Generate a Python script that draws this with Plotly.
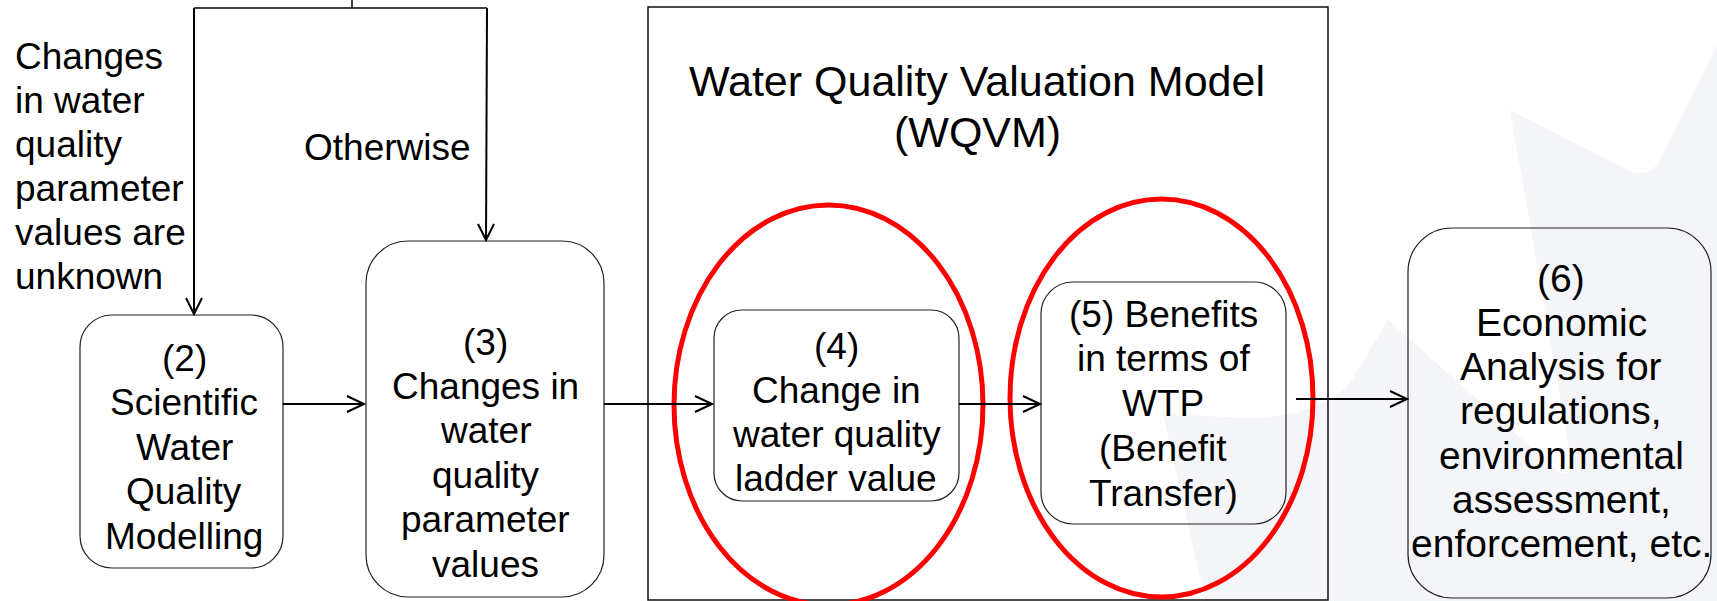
import plotly.graph_objects as go

W, H = 1717, 601

# ---------------- data (text content) ----------------
box_labels = [
    ["(2)", "Scientific", "Water", "Quality", "Modelling"],
    ["(3)", "Changes in", "water", "quality", "parameter", "values"],
    ["(4)", "Change in", "water quality", "ladder value"],
    ["(5) Benefits", "in terms of", "WTP", "(Benefit", "Transfer)"],
    ["(6)", "Economic", "Analysis for", "regulations,", "environmental",
     "assessment,", "enforcement, etc."],
]
condition_left = ["Changes", "in water", "quality", "parameter", "values are", "unknown"]
condition_right = ["Otherwise"]
model_title = ["Water Quality Valuation Model", "(WQVM)"]

# ---------------- layout geometry ----------------
# boxes: x0, y0, x1, y1, corner radius, text centre x, first line y, line step, font size
box_geom = [
    (80, 315, 283, 568, 32, 184, 358, 44.6, 37),
    (366, 241, 604, 597, 42, 485, 342, 44.4, 37),
    (714, 310, 959, 501, 28, 836, 346, 44.0, 37),
    (1041, 282, 1286, 524, 32, 1163, 314, 44.8, 37),
    (1408, 228, 1711, 598, 44, 1561, 278, 44.3, 39),
]
ellipse_geom = [(674, 205, 983, 605), (1010, 199, 1313, 597)]
frame_geom = (648, 7, 1328, 600)
FONT = "Arial, Liberation Sans, sans-serif"
FS = 37


def rrect(x0, y0, x1, y1, r):
    k = 0.5523 * r
    return (f"M {x0+r},{y0} L {x1-r},{y0} "
            f"C {x1-r+k},{y0} {x1},{y0+r-k} {x1},{y0+r} "
            f"L {x1},{y1-r} "
            f"C {x1},{y1-r+k} {x1-r+k},{y1} {x1-r},{y1} "
            f"L {x0+r},{y1} "
            f"C {x0+r-k},{y1} {x0},{y1-r+k} {x0},{y1-r} "
            f"L {x0},{y0+r} "
            f"C {x0},{y0+r-k} {x0+r-k},{y0} {x0+r},{y0} Z")


shapes = []
# faint watermark in background
shapes.append(dict(
    type="path", layer="below", line=dict(width=0), fillcolor="#f4f5f8",
    path=("M 1717,46 L 1660,160 Q 1648,180 1628,170 L 1510,110 "
          "L 1570,455 Q 1575,485 1552,466 L 1388,320 L 1350,383 "
          "Q 1320,416 1250,418 L 1163,414 L 1205,601 L 1717,601 Z")))

# WQVM frame
fx0, fy0, fx1, fy1 = frame_geom
shapes.append(dict(type="rect", x0=fx0, y0=fy0, x1=fx1, y1=fy1,
                   line=dict(color="#111111", width=1.5)))

# boxes
for (x0, y0, x1, y1, r, *_rest) in box_geom:
    shapes.append(dict(type="path", path=rrect(x0, y0, x1, y1, r),
                       line=dict(color="#222222", width=1.2)))

# red ellipses
for (x0, y0, x1, y1) in ellipse_geom:
    shapes.append(dict(type="circle", x0=x0, y0=y0, x1=x1, y1=y1,
                       line=dict(color="#ff0000", width=5)))

LC = dict(color="#000000", width=2)
# top connectors
shapes.append(dict(type="path", path="M 352,0 L 352,8", line=dict(color="#000", width=1.5)))
shapes.append(dict(type="path", path="M 194,8 L 487,8", line=dict(color="#000", width=1.5)))
shapes.append(dict(type="path", path="M 194,8 L 194,314", line=LC))
shapes.append(dict(type="path", path="M 487,8 L 486,240", line=LC))


def down_head(x, y):
    return f"M {x-8},{y-16} L {x},{y} L {x+8},{y-16}"


def right_head(x, y):
    return f"M {x-17},{y-8} L {x},{y} L {x-17},{y+8}"


shapes.append(dict(type="path", path=down_head(194, 314), line=LC))
shapes.append(dict(type="path", path=down_head(486, 240), line=LC))

# horizontal arrows: x start, x end, y
h_arrows = [(283, 364, 404), (604, 712, 404), (959, 1040, 404), (1296, 1407, 399)]
for xs, xe, y in h_arrows:
    shapes.append(dict(type="path", path=f"M {xs},{y} L {xe},{y}", line=LC))
    shapes.append(dict(type="path", path=right_head(xe, y), line=LC))

annotations = []


def add_lines(lines, x, y0, step, anchor="center", size=FS):
    for i, t in enumerate(lines):
        annotations.append(dict(
            x=x, y=y0 + i * step, text=t, showarrow=False,
            xanchor=anchor, yanchor="middle", xref="x", yref="y",
            font=dict(family=FONT, size=size, color="#000000")))


for lines, g in zip(box_labels, box_geom):
    add_lines(lines, g[5], g[6], g[7], size=g[8])

add_lines(condition_left, 13, 56, 44.0, anchor="left")
add_lines(condition_right, 387, 147, 44.0)
add_lines(model_title, 977, 81, 50.5, size=43)

fig = go.Figure()
fig.update_layout(
    width=W, height=H, margin=dict(l=0, r=0, t=0, b=0),
    paper_bgcolor="white", plot_bgcolor="white",
    xaxis=dict(range=[0, W], visible=False, fixedrange=True),
    yaxis=dict(range=[H, 0], visible=False, fixedrange=True),
    shapes=shapes, annotations=annotations, showlegend=False,
)
fig.write_html(
    "out.html",
    config={"displayModeBar": False},
    post_script="document.body.style.margin='0';document.body.style.overflow='hidden';",
)
